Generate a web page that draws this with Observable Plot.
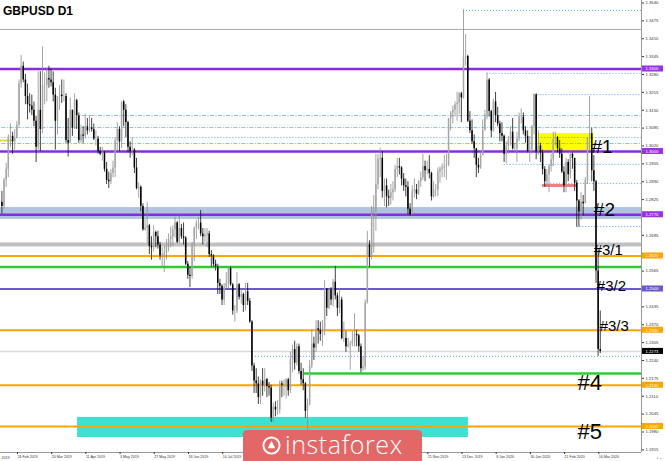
<!DOCTYPE html>
<html><head><meta charset="utf-8">
<script src="https://cdn.jsdelivr.net/npm/d3@7"></script>
<script src="https://cdn.jsdelivr.net/npm/@observablehq/plot@0.6"></script>
<style>
html,body{margin:0;padding:0;background:#fff;}
#wrap{position:relative;width:665px;height:461px;overflow:hidden;}
#title{position:absolute;left:3px;top:4px;font:bold 12px "Liberation Sans",Arial,sans-serif;color:#000;}
#wm{position:absolute;left:243px;top:430px;width:179px;height:31px;background:#e36767;border-radius:4px 4px 0 0;}
#wm svg{position:absolute;left:19px;top:6px;}
#wm span{position:absolute;left:42px;top:1px;color:#fff;font:300 25px/27px "Open Sans",sans-serif;letter-spacing:0.6px;white-space:nowrap;}
</style></head><body>
<div id="wrap"><div id="chart"></div><div id="title">GBPUSD D1</div>
<div id="wm"><svg width="19" height="19" viewBox="0 0 20 20"><circle cx="10" cy="10" r="8.5" fill="none" stroke="#fff" stroke-width="2"/><path d="M6 13 L10 5 L14 13 Z" fill="#fff"/></svg><span>instaforex</span></div>
</div>
<script>
// ---- daily OHLC, GBPUSD, 14 Feb 2019 .. 16 Mar 2020 (bar index 0..280)
const opens = [
1.2815,1.2800,1.2895,1.2935,1.3050,1.3055,1.3035,1.3050,1.3095,1.3245,
1.3310,1.3260,1.3200,1.3170,1.3165,1.3150,1.3110,1.3015,1.3150,1.3080,
1.3240,1.3240,1.3265,1.3260,1.3250,1.3205,1.3110,1.3200,1.3205,1.3200,
1.3200,1.3040,1.3030,1.3150,1.3085,1.3185,1.3130,1.3040,1.3060,1.3055,
1.3090,1.3075,1.3085,1.3080,1.3045,1.3045,1.3000,1.2990,1.2995,1.2935,
1.2895,1.2890,1.2920,1.2940,1.3040,1.3080,1.3035,1.3180,1.3150,1.3105,
1.3015,1.3000,1.3005,1.2940,1.2865,1.2870,1.2800,1.2715,1.2720,1.2730,
1.2655,1.2650,1.2705,1.2690,1.2660,1.2620,1.2620,1.2630,1.2665,1.2680,
1.2690,1.2715,1.2740,1.2670,1.2720,1.2690,1.2685,1.2590,1.2550,1.2545,
1.2660,1.2720,1.2740,1.2740,1.2700,1.2690,1.2695,1.2700,1.2625,1.2620,
1.2590,1.2580,1.2520,1.2510,1.2460,1.2505,1.2520,1.2575,1.2515,1.2420,
1.2420,1.2515,1.2470,1.2480,1.2440,1.2490,1.2455,1.2380,1.2220,1.2165,
1.2155,1.2105,1.2165,1.2150,1.2170,1.2145,1.2140,1.2030,1.2070,1.2060,
1.2060,1.2155,1.2150,1.2150,1.2170,1.2130,1.2245,1.2280,1.2230,1.2290,
1.2200,1.2170,1.2155,1.2055,1.2080,1.2220,1.2300,1.2285,1.2355,1.2350,
1.2335,1.2340,1.2500,1.2430,1.2495,1.2460,1.2525,1.2475,1.2430,1.2460,
1.2320,1.2320,1.2290,1.2295,1.2300,1.2310,1.2335,1.2330,1.2290,1.2210,
1.2215,1.2450,1.2660,1.2615,1.2770,1.2770,1.2880,1.2970,1.2975,1.2855,
1.2875,1.2835,1.2830,1.2850,1.2860,1.2935,1.2945,1.2940,1.2900,1.2875,
1.2870,1.2790,1.2770,1.2855,1.2860,1.2845,1.2890,1.2905,1.2945,1.2930,
1.2935,1.2920,1.2835,1.2860,1.2860,1.2925,1.2935,1.2940,1.2945,1.2950,
1.3120,1.3140,1.3150,1.3170,1.3175,1.3210,1.3195,1.3340,1.3345,1.3110,
1.3075,1.3035,1.3010,1.2950,1.2940,1.2985,1.3075,1.3125,1.3260,1.3145,
1.3075,1.3180,1.3130,1.3100,1.3065,1.3055,1.2990,1.3020,1.3040,1.3070,
1.3010,1.3010,1.3045,1.3125,1.3125,1.3075,1.3055,1.3000,1.3000,1.3090,
1.3205,1.3000,1.3020,1.2995,1.2935,1.2890,1.2915,1.2945,1.2970,1.3045,
1.3050,1.3010,1.2990,1.2925,1.2875,1.2960,1.2915,1.2990,1.2975,1.2885,
1.2820,1.2780,1.2815,1.2810,1.2895,1.3045,1.3065,1.2930,1.2890,1.2565,
1.2280];
const highs = [
1.2855,1.2903,1.2957,1.3060,1.3100,1.3070,1.3080,1.3110,1.3260,1.3350,
1.3325,1.3280,1.3245,1.3210,1.3205,1.3180,1.3128,1.3290,1.3290,1.3380,
1.3285,1.3300,1.3310,1.3300,1.3290,1.3230,1.3200,1.3240,1.3260,1.3260,
1.3210,1.3120,1.3195,1.3150,1.3210,1.3190,1.3140,1.3095,1.3090,1.3135,
1.3120,1.3130,1.3120,1.3100,1.3075,1.3055,1.3015,1.3015,1.3000,1.2960,
1.2925,1.2935,1.2965,1.3050,1.3105,1.3090,1.3180,1.3185,1.3170,1.3110,
1.3035,1.3050,1.3010,1.2975,1.2885,1.2875,1.2810,1.2755,1.2815,1.2735,
1.2690,1.2730,1.2710,1.2710,1.2670,1.2650,1.2655,1.2680,1.2700,1.2725,
1.2730,1.2760,1.2745,1.2765,1.2735,1.2740,1.2690,1.2600,1.2580,1.2670,
1.2725,1.2750,1.2760,1.2785,1.2720,1.2720,1.2720,1.2710,1.2640,1.2625,
1.2605,1.2590,1.2535,1.2515,1.2520,1.2560,1.2580,1.2580,1.2520,1.2440,
1.2560,1.2520,1.2500,1.2485,1.2520,1.2520,1.2465,1.2385,1.2230,1.2210,
1.2180,1.2170,1.2210,1.2210,1.2175,1.2160,1.2150,1.2085,1.2090,1.2095,
1.2165,1.2165,1.2170,1.2175,1.2175,1.2270,1.2295,1.2310,1.2300,1.2300,
1.2230,1.2210,1.2160,1.2100,1.2240,1.2350,1.2325,1.2385,1.2385,1.2380,
1.2385,1.2530,1.2500,1.2500,1.2505,1.2535,1.2582,1.2485,1.2500,1.2470,
1.2380,1.2345,1.2320,1.2310,1.2345,1.2410,1.2350,1.2335,1.2300,1.2255,
1.2460,1.2710,1.2675,1.2800,1.2840,1.2990,1.2990,1.3012,1.3000,1.2900,
1.2900,1.2860,1.2880,1.2890,1.2950,1.2975,1.2975,1.2945,1.2920,1.2900,
1.2890,1.2810,1.2875,1.2900,1.2880,1.2895,1.2925,1.2990,1.2965,1.2965,
1.2985,1.2925,1.2890,1.2880,1.2940,1.2945,1.2955,1.2985,1.2990,1.3120,
1.3145,1.3165,1.3180,1.3215,1.3215,1.3215,1.3515,1.3425,1.3350,1.3145,
1.3115,1.3060,1.3010,1.2975,1.3000,1.3115,1.3150,1.3285,1.3265,1.3150,
1.3190,1.3215,1.3160,1.3110,1.3105,1.3060,1.3035,1.3055,1.3090,1.3120,
1.3030,1.3070,1.3140,1.3155,1.3140,1.3090,1.3075,1.3055,1.3095,1.3210,
1.3210,1.3075,1.3030,1.3005,1.2945,1.2935,1.2950,1.2990,1.3070,1.3070,
1.3055,1.3040,1.3010,1.2945,1.2975,1.2970,1.3000,1.2995,1.2975,1.2895,
1.2825,1.2850,1.2840,1.2905,1.3050,1.3200,1.3085,1.2985,1.2895,1.2645,
1.2420];
const lows = [
1.2773,1.2790,1.2870,1.2905,1.3015,1.2990,1.3005,1.3045,1.3090,1.3230,
1.3250,1.3170,1.3115,1.3140,1.3130,1.3090,1.2960,1.2990,1.3000,1.3065,
1.3170,1.3180,1.3230,1.3235,1.3180,1.3005,1.3060,1.3150,1.3175,1.3180,
1.3030,1.2980,1.3030,1.3055,1.3080,1.3080,1.3030,1.3030,1.3030,1.3045,
1.3060,1.3070,1.3070,1.3040,1.3020,1.2990,1.2985,1.2965,1.2925,1.2880,
1.2865,1.2880,1.2905,1.2905,1.3000,1.3000,1.3010,1.3090,1.3050,1.2995,
1.2975,1.2985,1.2920,1.2860,1.2830,1.2780,1.2710,1.2710,1.2665,1.2625,
1.2605,1.2635,1.2650,1.2645,1.2605,1.2580,1.2560,1.2605,1.2635,1.2650,
1.2655,1.2685,1.2665,1.2665,1.2680,1.2660,1.2585,1.2535,1.2505,1.2535,
1.2600,1.2680,1.2715,1.2690,1.2660,1.2670,1.2650,1.2615,1.2580,1.2580,
1.2565,1.2480,1.2480,1.2440,1.2440,1.2500,1.2500,1.2510,1.2405,1.2380,
1.2410,1.2460,1.2445,1.2415,1.2420,1.2440,1.2375,1.2200,1.2120,1.2120,
1.2080,1.2080,1.2110,1.2125,1.2105,1.2110,1.2015,1.2015,1.2035,1.2040,
1.2045,1.2105,1.2110,1.2100,1.2110,1.2120,1.2195,1.2205,1.2220,1.2190,
1.2150,1.2130,1.2030,1.1958,1.2075,1.2210,1.2240,1.2270,1.2300,1.2310,
1.2290,1.2330,1.2400,1.2425,1.2440,1.2435,1.2460,1.2400,1.2410,1.2315,
1.2305,1.2270,1.2285,1.2205,1.2290,1.2290,1.2290,1.2270,1.2195,1.2200,
1.2205,1.2445,1.2580,1.2605,1.2630,1.2710,1.2860,1.2905,1.2830,1.2800,
1.2795,1.2800,1.2805,1.2820,1.2850,1.2905,1.2915,1.2875,1.2855,1.2835,
1.2770,1.2765,1.2770,1.2830,1.2825,1.2840,1.2870,1.2895,1.2890,1.2915,
1.2900,1.2820,1.2830,1.2835,1.2835,1.2885,1.2905,1.2905,1.2895,1.2945,
1.3075,1.3100,1.3125,1.3110,1.3135,1.3105,1.3190,1.3310,1.3105,1.3065,
1.3025,1.2975,1.2905,1.2920,1.2935,1.2985,1.3075,1.3115,1.3125,1.3050,
1.3070,1.3105,1.3090,1.3035,1.3035,1.2960,1.2955,1.2990,1.3020,1.3005,
1.2995,1.2960,1.3035,1.3100,1.3060,1.3030,1.2995,1.2960,1.2990,1.3060,
1.2970,1.2985,1.2960,1.2915,1.2870,1.2870,1.2850,1.2925,1.2945,1.3020,
1.2995,1.2975,1.2920,1.2850,1.2850,1.2890,1.2900,1.2935,1.2855,1.2725,
1.2725,1.2750,1.2765,1.2810,1.2880,1.3000,1.2890,1.2855,1.2520,1.2255,
1.2265];
const closes = [
1.2800,1.2895,1.2935,1.3050,1.3055,1.3035,1.3048,1.3095,1.3245,1.3310,
1.3260,1.3200,1.3170,1.3165,1.3150,1.3110,1.3015,1.3150,1.3080,1.3240,
1.3240,1.3265,1.3260,1.3250,1.3205,1.3110,1.3200,1.3205,1.3200,1.3200,
1.3040,1.3030,1.3150,1.3085,1.3185,1.3130,1.3040,1.3060,1.3055,1.3090,
1.3075,1.3085,1.3080,1.3045,1.3045,1.3000,1.2990,1.2995,1.2935,1.2895,
1.2890,1.2920,1.2940,1.3040,1.3080,1.3035,1.3180,1.3150,1.3105,1.3015,
1.3000,1.3005,1.2940,1.2865,1.2870,1.2800,1.2715,1.2720,1.2730,1.2655,
1.2650,1.2705,1.2690,1.2660,1.2620,1.2620,1.2630,1.2665,1.2680,1.2690,
1.2715,1.2740,1.2670,1.2720,1.2690,1.2685,1.2590,1.2550,1.2545,1.2660,
1.2720,1.2740,1.2740,1.2700,1.2690,1.2695,1.2700,1.2625,1.2620,1.2590,
1.2580,1.2520,1.2510,1.2460,1.2505,1.2520,1.2575,1.2515,1.2420,1.2420,
1.2515,1.2470,1.2480,1.2440,1.2490,1.2455,1.2380,1.2220,1.2165,1.2155,
1.2105,1.2165,1.2150,1.2170,1.2145,1.2140,1.2030,1.2070,1.2060,1.2060,
1.2155,1.2150,1.2150,1.2170,1.2130,1.2245,1.2280,1.2230,1.2290,1.2200,
1.2170,1.2155,1.2055,1.2080,1.2220,1.2300,1.2285,1.2355,1.2350,1.2335,
1.2340,1.2500,1.2430,1.2495,1.2460,1.2525,1.2475,1.2430,1.2460,1.2320,
1.2320,1.2290,1.2295,1.2300,1.2310,1.2335,1.2330,1.2290,1.2210,1.2215,
1.2450,1.2660,1.2615,1.2770,1.2770,1.2880,1.2970,1.2975,1.2855,1.2875,
1.2835,1.2830,1.2850,1.2860,1.2935,1.2945,1.2940,1.2900,1.2875,1.2870,
1.2790,1.2770,1.2855,1.2860,1.2845,1.2890,1.2905,1.2945,1.2930,1.2935,
1.2920,1.2835,1.2860,1.2860,1.2925,1.2935,1.2940,1.2945,1.2950,1.3120,
1.3140,1.3150,1.3170,1.3175,1.3210,1.3195,1.3340,1.3345,1.3110,1.3075,
1.3035,1.3010,1.2950,1.2940,1.2985,1.3075,1.3125,1.3260,1.3145,1.3075,
1.3180,1.3130,1.3100,1.3065,1.3055,1.2990,1.3020,1.3040,1.3070,1.3010,
1.3010,1.3045,1.3125,1.3125,1.3075,1.3055,1.3000,1.3000,1.3090,1.3205,
1.3000,1.3020,1.2995,1.2935,1.2890,1.2915,1.2945,1.2970,1.3045,1.3050,
1.3010,1.2990,1.2925,1.2875,1.2960,1.2915,1.2990,1.2975,1.2885,1.2820,
1.2780,1.2815,1.2810,1.2895,1.3045,1.3065,1.2930,1.2890,1.2565,1.2280,
1.2273];

// ---- time axis labels (bar index of each label; labels hidden by the logo are blank)
const tickBars = [8,24,40,56,72,88,104,120,136,152,168,184,200,216,232,248,264,280];
const tickLabels = ["26 Feb 2019","20 Mar 2019","11 Apr 2019","3 May 2019","27 May 2019","18 Jun 2019","10 Jul 2019","","","","","","21 Nov 2019","13 Dec 2019","8 Jan 2020","30 Jan 2020","21 Feb 2020","16 Mar 2020"];
const edgeLabel = ["2019"];

// ---- price axis
const priceTicks = [1.1915,1.1980,1.2045,1.2110,1.2175,1.2240,1.2305,1.2370,1.2435,1.2500,1.2565,1.2630,1.2695,1.2760,1.2825,1.2890,1.2955,1.3020,1.3085,1.3150,1.3215,1.3280,1.3345,1.3410,1.3475,1.3540];

// ---- levels
const purpleLevels = [1.3300, 1.3000, 1.2770];
const orangeLevels = [1.2620, 1.2350, 1.2150, 1.2000];
const greenLevels = [1.2580];
const slateLevels = [1.2500];
const grayWideLevels = [1.2662];
const grayThinLevels = [1.3444];
const lastPrice = [1.2273];
const greenShortLevel = 1.2193, greenShortFrom = 141.6;
const dottedLevels = [1.3513, 1.3284, 1.3207, 1.3051, 1.2953, 1.2884, 1.2727, 1.2255];
const dottedFrom =   [216,    227,    249,    0,      235,    254,    269,    118.7];
const cyanLevels = [1.3131, 1.3087, 1.3029];
const cyanFrom =   [37.7,   0,      0];
const steelBand = [1.2753, 1.2796];
const tealBand = [1.1960, 1.2033], tealBars = [35.4, 218.3];
const yellowBox = [1.3000, 1.3065], yellowBars = [251.2, 276.9];
const yellowStub = 1.3040, yellowStubEnd = 5.4;
const redSegment = 1.2876, redBars = [253, 269.4];
const axisBadges = [
  {p:1.3300, t:"1.3300", c:"#9a32e6"},
  {p:1.3000, t:"1.3000", c:"#9a32e6"},
  {p:1.2770, t:"1.2770", c:"#9a32e6"},
  {p:1.2620, t:"1.2620", c:"#ffa500"},
  {p:1.2500, t:"1.2500", c:"#6a5acd"},
  {p:1.2350, t:"1.2350", c:"#ffa500"},
  {p:1.2273, t:"1.2273", c:"#000000"},
  {p:1.2150, t:"1.2150", c:"#ffa500"},
  {p:1.2000, t:"1.2000", c:"#ffa500"}];
const notes = [
  {t:"#1", i:275.9, p:1.2996, s:19},
  {t:"#2", i:277, p:1.2767, s:19},
  {t:"#3/1", i:276.9, p:1.2622, s:15},
  {t:"#3/2", i:278.4, p:1.2494, s:15},
  {t:"#3/3", i:279.7, p:1.2349, s:15},
  {t:"#4", i:269.3, p:1.2131, s:22},
  {t:"#5", i:269.3, p:1.1953, s:22}];

const bars = opens.map((o, i) => ({i, o, h: highs[i], l: lows[i], c: closes[i], up: closes[i] >= o}));

// scale geometry
const W = 665, H = 461, mR = 24, mB = 9;
const xd = [-0.657, 299.29];
const yd = [1.190545, 1.354909];
const pxToBar = px => xd[0] + px * (xd[1] - xd[0]) / (W - mR);
const lm = new Map(tickBars.map((b, k) => [b, tickLabels[k]]));
const badgeH = 0.0011;
const axisFont = "Liberation Sans, Arial, sans-serif";
// tick labels that sit under a coloured badge are not drawn
const hiddenTicks = new Set([1.2760, 1.2630]);

const chart = Plot.plot({
  width: W, height: H,
  marginTop: 0, marginLeft: 0, marginRight: mR, marginBottom: mB,
  style: {fontFamily: axisFont, background: "#fff"},
  x: {type: "linear", domain: xd, axis: null},
  y: {type: "linear", domain: yd, axis: null},
  marks: [
    // bands
    Plot.rect([0], {x1: xd[0], x2: xd[1], y1: steelBand[0], y2: steelBand[1], fill: "#b0c4de"}),
    Plot.rect([0], {x1: tealBars[0], x2: tealBars[1], y1: tealBand[0], y2: tealBand[1], fill: "#40e0d0"}),
    Plot.rect([0], {x1: yellowBars[0], x2: yellowBars[1], y1: yellowBox[0], y2: yellowBox[1], fill: "#ffff00"}),
    Plot.ruleY([yellowStub], {x1: xd[0], x2: yellowStubEnd, stroke: "#e8d840", strokeWidth: 2}),
    // thin & dotted levels
    Plot.ruleY(grayThinLevels, {x1: xd[0], x2: xd[1], stroke: "#a9a9a9", strokeWidth: 1}),
    Plot.ruleY(dottedLevels, {y: d => d, x1: (d, k) => dottedFrom[k], x2: xd[1], stroke: "#1e90ff", strokeWidth: 0.8, strokeDasharray: "1,2"}),
    Plot.ruleY(cyanLevels, {y: d => d, x1: (d, k) => cyanFrom[k], x2: xd[1], stroke: "#40c8d0", strokeWidth: 0.8, strokeDasharray: "4,1.5,1,1.5"}),
    Plot.ruleY(lastPrice, {x1: xd[0], x2: xd[1], stroke: "#d8d8d8", strokeWidth: 1.5}),
    // main levels
    Plot.ruleY(grayWideLevels, {x1: xd[0], x2: xd[1], stroke: "#c0c0c0", strokeWidth: 4}),
    Plot.ruleY(greenLevels, {x1: xd[0], x2: xd[1], stroke: "#2ecc2e", strokeWidth: 2.5}),
    Plot.ruleY([greenShortLevel], {x1: greenShortFrom, x2: xd[1], stroke: "#2ecc2e", strokeWidth: 2.5}),
    Plot.ruleY(orangeLevels, {x1: xd[0], x2: xd[1], stroke: "#ffa500", strokeWidth: 2.2}),
    Plot.ruleY(slateLevels, {x1: xd[0], x2: xd[1], stroke: "#6a5acd", strokeWidth: 2}),
    Plot.ruleY(purpleLevels, {x1: xd[0], x2: xd[1], stroke: "#8a2be2", strokeWidth: 2.6}),
    Plot.ruleY([redSegment], {x1: redBars[0], x2: redBars[1], stroke: "#f08080", strokeWidth: 3}),
    // candles
    Plot.ruleX(bars, {x: "i", y1: "l", y2: "h", stroke: d => d.up ? "#8c8c8c" : "#111", strokeWidth: 0.8}),
    Plot.ruleX(bars, {x: "i", y1: "o", y2: "c", stroke: d => d.up ? "#a6a6a6" : "#000", strokeWidth: 1.5}),
    // axes frame
    Plot.ruleX([xd[1]], {stroke: "#999", strokeWidth: 1}),
    Plot.ruleY([yd[0]], {x1: xd[0], x2: xd[1], stroke: "#999", strokeWidth: 1}),
    Plot.axisY(priceTicks.filter(d => !hiddenTicks.has(d)), {anchor: "right", tickSize: 2, tickPadding: 2, fontSize: 4.2, tickFormat: d => d.toFixed(4), color: "#333"}),
    Plot.axisX(tickBars, {anchor: "bottom", tickSize: 2, tickPadding: 1, fontSize: 3.6, textAnchor: "start", dx: -1.5, tickFormat: d => lm.get(d), color: "#333"}),
    Plot.text(edgeLabel, {frameAnchor: "bottom-left", text: d => d, dx: 1, dy: 6.5, fontSize: 3.6, textAnchor: "start", fill: "#333"}),
    // axis badges
    Plot.rect(axisBadges, {x1: pxToBar(642), x2: pxToBar(663), y1: d => d.p - badgeH, y2: d => d.p + badgeH, fill: "c"}),
    Plot.text(axisBadges, {x: pxToBar(645), y: "p", text: "t", fill: "#fff", fontSize: 4.2, textAnchor: "start"}),
    // annotations
    Plot.text(notes, {x: "i", y: "p", text: "t", fontSize: "s", textAnchor: "start", lineAnchor: "bottom", fill: "#000", fontFamily: "Liberation Sans, Arial, sans-serif"})
  ]
});
document.getElementById("chart").appendChild(chart);
</script>
</body></html>
